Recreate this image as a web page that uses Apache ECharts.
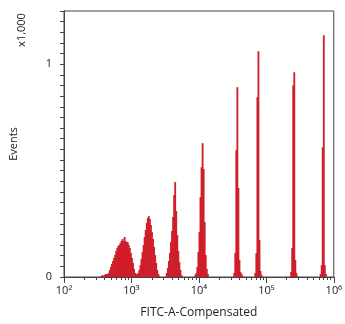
<!DOCTYPE html>
<html>
<head>
<meta charset="utf-8">
<script src="https://cdn.jsdelivr.net/npm/echarts@6/dist/echarts.min.js"></script>
<style>
html,body{margin:0;padding:0;background:#fff;}
#chart{width:345px;height:324px;}
</style>
</head>
<body>
<div id="chart"></div>
<script>
// Histogram: 256 log-spaced bins over 10^2..10^6 (64 bins per decade)
const binsPerDecade = 64;
const xDecades = [2, 3, 4, 5, 6];
const xTickLabels = ['10²', '10³', '10⁴', '10⁵', '10⁶'];
const minorMultipliers = [2, 3, 4, 5, 6, 7, 8, 9];
const yLabelValues = [0, 1000];

// first bin index of each peak
const peakStartBins = [35, 97, 124, 161, 181, 215, 243];
// event counts per bin for each peak (peaks 1+2 share one run)
const peak12 = [5, 9, 5, 9, 14, 14, 14, 19, 33, 47, 61, 75, 89, 103, 122, 136, 146, 150, 160, 169,
  178, 169, 188, 169, 164, 164, 150, 136, 113, 89, 66, 38, 19, 14, 14, 19, 33, 56, 85, 117,
  150, 188, 221, 254, 277, 286, 272, 244, 211, 178, 141, 103, 66, 33, 14, 5];
const peak3 = [19, 42, 75, 113, 164, 216, 282, 385, 446, 310, 197, 122, 70, 33, 9];
const peak4 = [9, 19, 47, 117, 211, 376, 516, 629, 507, 258, 103, 38, 14];
const peak5 = [19, 113, 596, 892, 418, 80, 23, 14, 5];
const peak6 = [19, 113, 845, 1061, 174, 28, 9];
const peak7 = [23, 136, 901, 962, 80, 19, 5];
const peak8 = [14, 56, 610, 1136, 56, 14];
const peaks = [peak12, peak3, peak4, peak5, peak6, peak7, peak8];

const items = [];
peaks.forEach((counts, p) => {
  counts.forEach((c, k) => {
    const b = peakStartBins[p] + k;
    items.push([2 + b / binsPerDecade, 2 + (b + 1) / binsPerDecade, c]);
  });
});

const minorTicks = [];
for (let d = 2; d < 6; d++) {
  minorMultipliers.forEach(m => minorTicks.push(d + Math.log10(m)));
}
const yTicks = [];
for (let v = 0; v <= 1250; v += 50) yTicks.push(v);

const FONT = 'Open Sans';
const chart = echarts.init(document.getElementById('chart'), null, {renderer: 'canvas'});
chart.setOption({
  animation: false,
  backgroundColor: '#fff',
  grid: {left: 62, top: 11, right: 10, bottom: 47, show: true, borderColor: '#444', borderWidth: 1, containLabel: false},
  xAxis: [{
    type: 'value', min: 2, max: 6, interval: 1,
    axisLine: {show: true, lineStyle: {color: '#444', width: 1}},
    axisTick: {show: true, length: 6, inside: false, lineStyle: {color: '#444'}},
    axisLabel: {
      show: true, margin: 8, color: '#222', fontFamily: FONT, fontSize: 11,
      formatter: v => xTickLabels[xDecades.indexOf(Math.round(v))] || ''
    },
    splitLine: {show: false},
    name: 'FITC-A-Compensated', nameLocation: 'middle', nameGap: 30,
    nameTextStyle: {color: '#222', fontFamily: FONT, fontSize: 12}
  }, {
    type: 'value', min: 2, max: 6, position: 'bottom',
    axisLine: {show: false},
    axisTick: {show: true, length: 3, customValues: minorTicks, lineStyle: {color: '#444'}},
    axisLabel: {show: false},
    splitLine: {show: false}
  }],
  yAxis: [{
    type: 'value', min: 0, max: 1250,
    axisLine: {show: true, lineStyle: {color: '#444', width: 1}},
    axisTick: {show: true, length: 4, customValues: yTicks, lineStyle: {color: '#444'}},
    axisLabel: {show: true, margin: 12, customValues: yLabelValues, color: '#222', fontFamily: FONT, fontSize: 11,
      formatter: v => String(v / 1000)},
    splitLine: {show: false},
    name: 'Events', nameLocation: 'middle', nameGap: 45, nameRotate: 90,
    nameTextStyle: {color: '#222', fontFamily: FONT, fontSize: 11}
  }],
  graphic: [{
    type: 'text', x: 22, y: 30, rotation: Math.PI / 2,
    style: {text: 'x1,000', fill: '#222', font: '11px "Open Sans"', textAlign: 'center', textVerticalAlign: 'middle'}
  }],
  series: [{
    type: 'custom',
    xAxisIndex: 0, yAxisIndex: 0,
    data: items,
    clip: true,
    renderItem: function (params, api) {
      const p0 = api.coord([api.value(0), 0]);
      const p1 = api.coord([api.value(1), api.value(2)]);
      return {
        type: 'rect',
        shape: {x: p0[0] - 0.4, y: p1[1], width: p1[0] - p0[0] + 0.8, height: p0[1] - p1[1]},
        style: {fill: '#cf1f2b', lineWidth: 0}
      };
    }
  }]
});
</script>
</body>
</html>
